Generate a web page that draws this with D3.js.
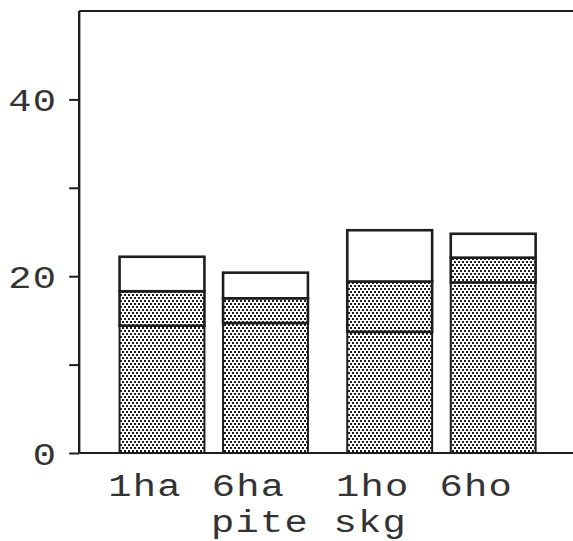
<!DOCTYPE html>
<html>
<head>
<meta charset="utf-8">
<script src="https://cdn.jsdelivr.net/npm/d3@7"></script>
<style>
  html, body { margin: 0; padding: 0; background: #fff; }
  svg { display: block; }
  text { font-family: "Liberation Mono", "DejaVu Sans Mono", monospace; fill: #333; }
</style>
</head>
<body>
<svg id="chart" width="573" height="541"></svg>
<script>
// Categories and their positions along the x axis (two groups of two)
const categories = ["1ha", "6ha", "1ho", "6ho"];
const catPos = [1, 2, 3.2, 4.2];
// Stacked components of each bar
const lowerPart = [14.4, 14.7, 13.7, 19.3];
const middlePart = [3.9, 2.8, 5.7, 2.8];
const upperPart = [3.9, 2.9, 5.8, 2.7];
const yTicks = [0, 10, 20, 30, 40];
const yTickLabels = ["0", "", "20", "", "40"];
const xTitle = "pite skg";

const svg = d3.select("#chart");
const ink = "#1e1e1e";
const fontSize = 31;
const stretch = 1.25;   // wide, plotter-style lettering
const spacing = 1;

const x = d3.scaleLinear().domain([0, 5]).range([58.5, 576]);
const y = d3.scaleLinear().domain([0, 50]).range([453, 11]);
const barW = x(0.82) - x(0);

// stipple fill
const defs = svg.append("defs");
const pat = defs.append("pattern")
  .attr("id", "stipple").attr("patternUnits", "userSpaceOnUse")
  .attr("width", 8).attr("height", 6);
pat.append("rect").attr("width", 8).attr("height", 6).attr("fill", "#fff");
[[0, 0], [4, 0], [2, 3], [6, 3]].forEach(([px, py]) => {
  pat.append("rect").attr("x", px).attr("y", py).attr("width", 2).attr("height", 2).attr("fill", ink);
});

const rows = categories.map((c, i) => ({
  cat: c, pos: catPos[i], lower: lowerPart[i], middle: middlePart[i], upper: upperPart[i]
}));
const stack = d3.stack().keys(["lower", "middle", "upper"]);
const layers = stack(rows);
const fills = { lower: "url(#stipple)", middle: "url(#stipple)", upper: "#fff" };

layers.forEach(layer => {
  svg.append("g").selectAll("rect").data(layer).join("rect")
    .attr("x", d => x(d.data.pos) - barW / 2)
    .attr("y", d => y(d[1]))
    .attr("width", barW)
    .attr("height", d => y(d[0]) - y(d[1]))
    .attr("fill", fills[layer.key])
    .attr("stroke", ink)
    .attr("stroke-width", layer.key === "lower" ? 2 : 2.6);
});

// frame: left axis, top line, baseline
svg.append("line").attr("x1", x(0.2)).attr("x2", 573).attr("y1", y(50)).attr("y2", y(50))
  .attr("stroke", ink).attr("stroke-width", 2.2);
svg.append("line").attr("x1", x(0.2)).attr("x2", 573).attr("y1", y(0)).attr("y2", y(0))
  .attr("stroke", ink).attr("stroke-width", 2.2);

const yAxis = d3.axisLeft(y).tickValues(yTicks).tickSize(10).tickPadding(0)
  .tickFormat((d, i) => yTickLabels[i]);
const gy = svg.append("g").attr("transform", `translate(${x(0.2)},0)`).call(yAxis);
gy.select(".domain").attr("stroke", ink).attr("stroke-width", 2.4)
  .attr("d", `M0,${y(50)}V${y(0)}`);
gy.selectAll(".tick line").attr("stroke", ink).attr("stroke-width", 2);
gy.selectAll(".tick text")
  .attr("x", 0).attr("dy", null).attr("y", 11)
  .attr("transform", `translate(-22,0) scale(${stretch},1)`)
  .attr("text-anchor", "end")
  .attr("font-size", fontSize).attr("letter-spacing", spacing)
  .attr("fill", "#333").attr("font-family", "'Liberation Mono', monospace");

// category labels
svg.append("g").selectAll("text").data(rows).join("text")
  .attr("transform", d => `translate(${x(d.pos) - 17},496) scale(${stretch},1)`)
  .attr("text-anchor", "middle")
  .attr("font-size", fontSize)
  .attr("letter-spacing", spacing)
  .text(d => d.cat);

svg.append("text")
  .attr("transform", `translate(309,532) scale(${stretch},1)`)
  .attr("text-anchor", "middle")
  .attr("font-size", fontSize)
  .attr("letter-spacing", spacing)
  .text(xTitle);
</script>
</body>
</html>
